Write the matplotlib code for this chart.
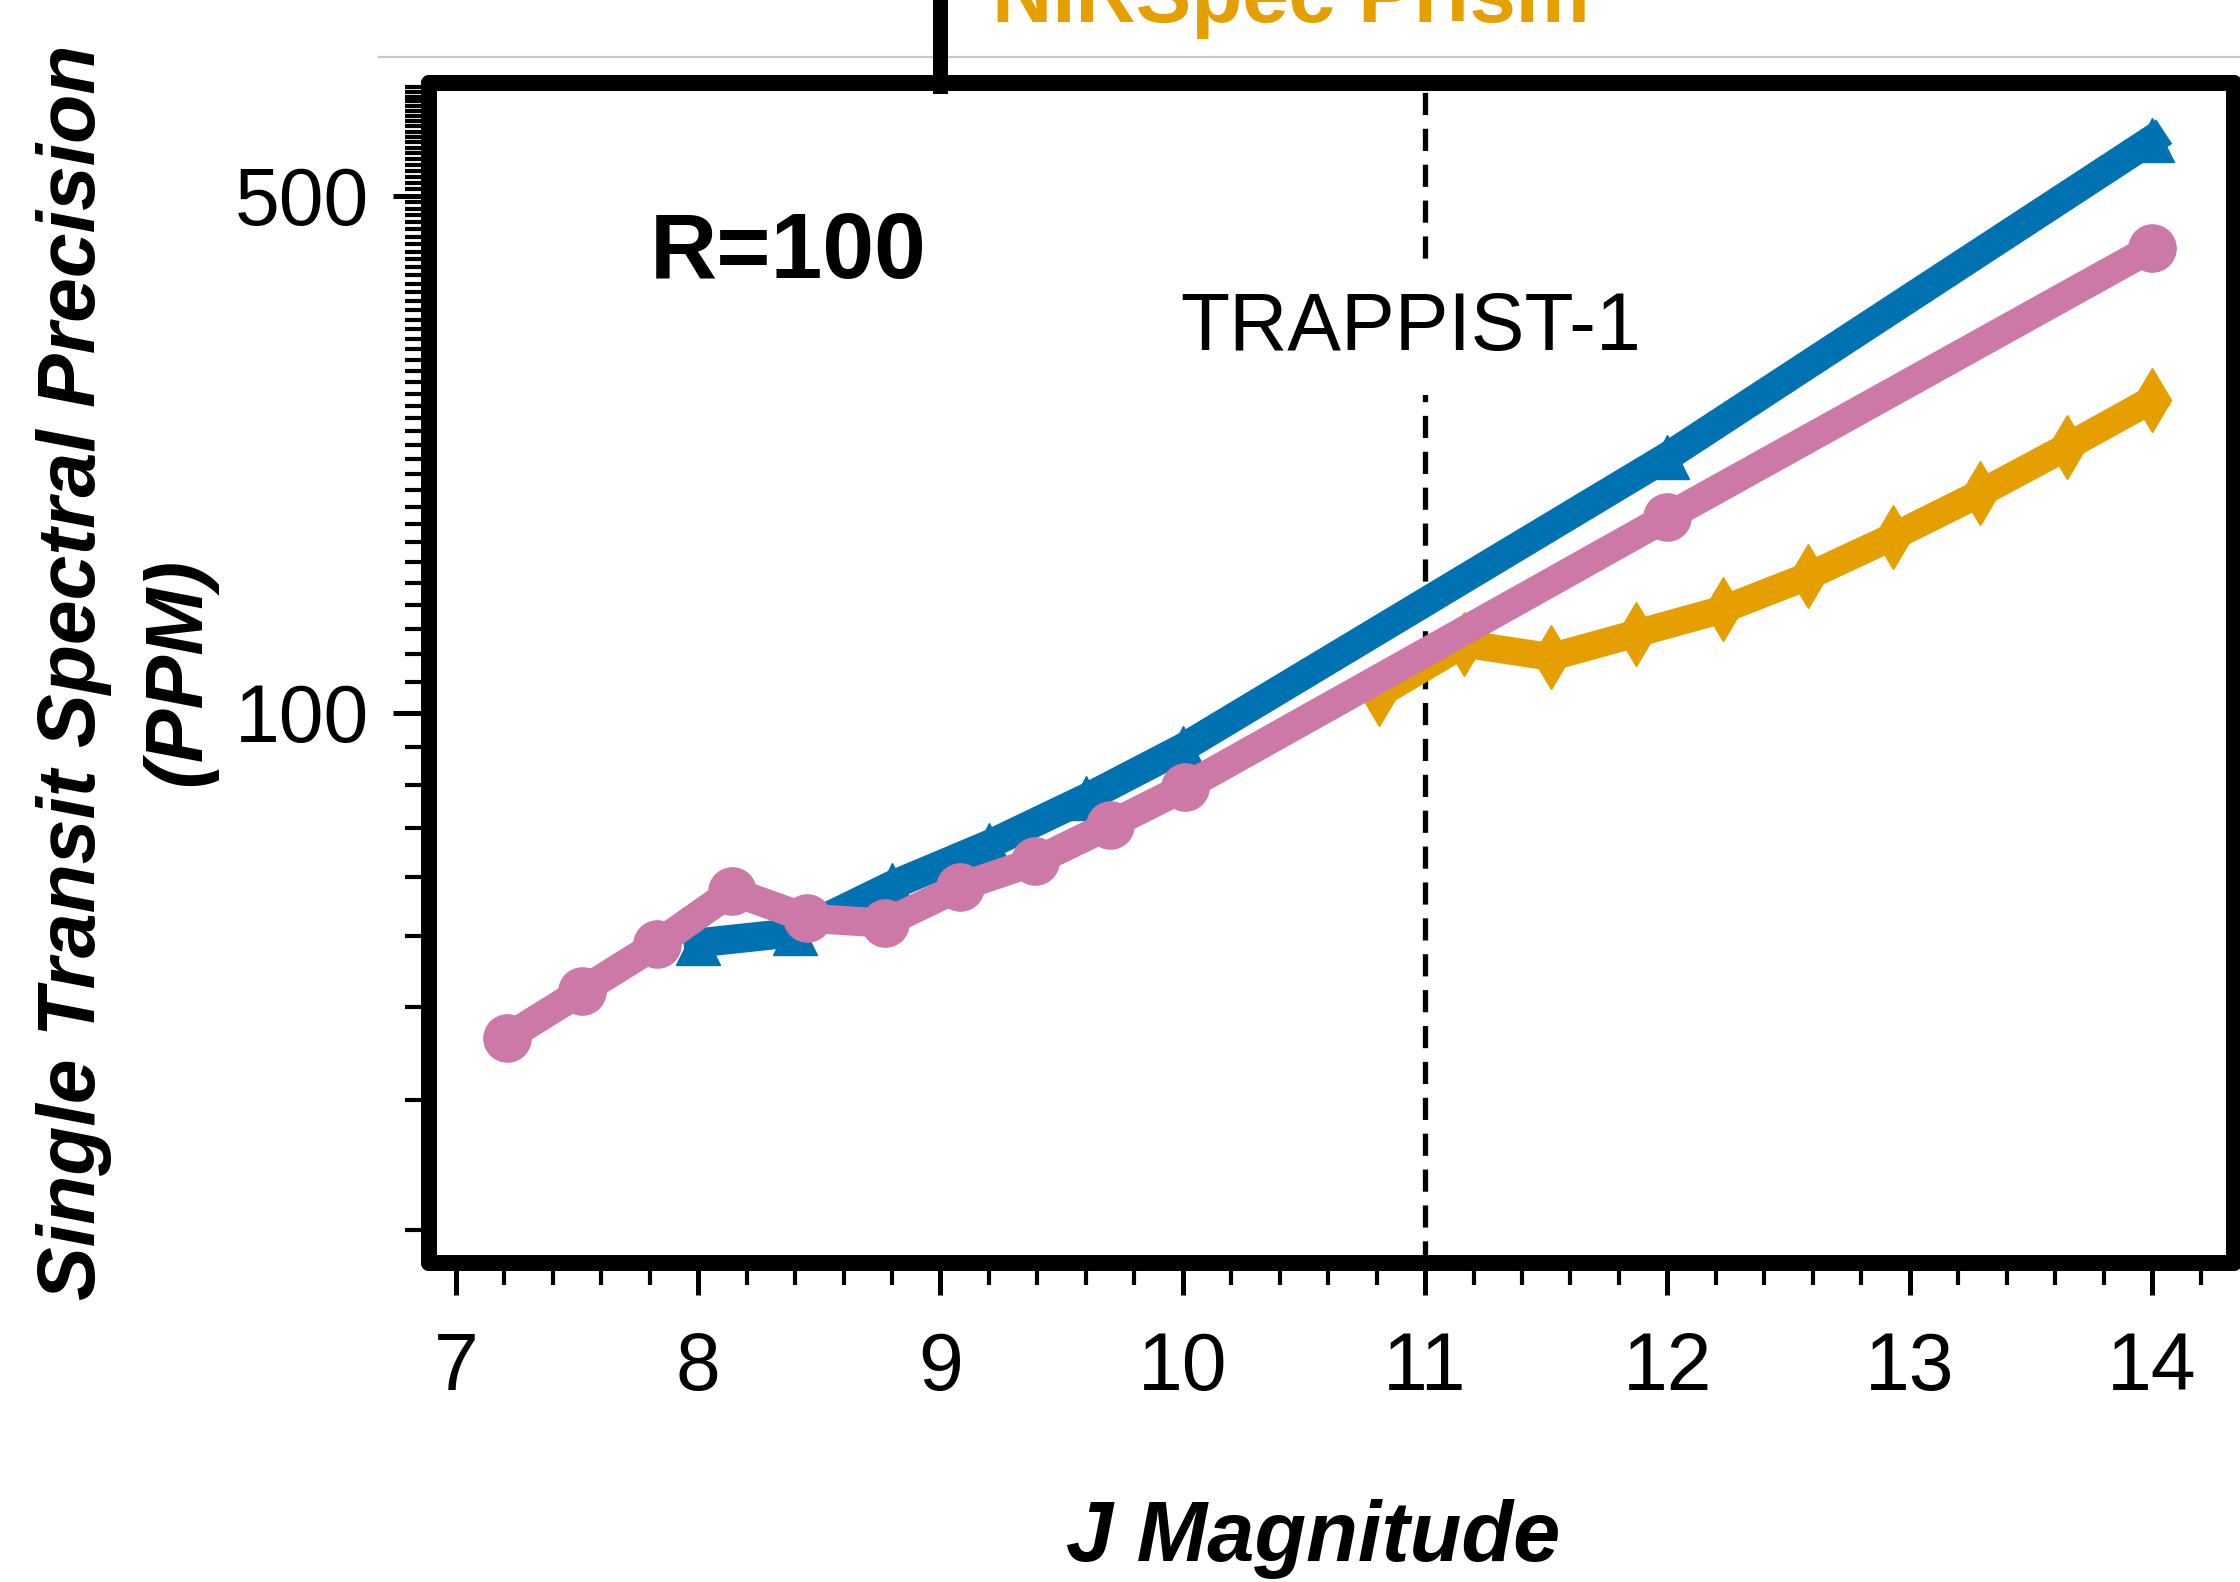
import numpy as np
import matplotlib
matplotlib.use('Agg')
import matplotlib.pyplot as plt
from matplotlib.lines import Line2D
from matplotlib.ticker import FixedLocator, MultipleLocator, NullFormatter

plt.rcParams['font.family'] = ['Liberation Sans', 'DejaVu Sans']

# Data (J magnitude vs single transit precision, ppm)
pink_j = [7.21, 7.52, 7.83, 8.14, 8.45, 8.77, 9.08, 9.39, 9.70, 10.01, 12.0, 14.0]
pink_ppm = [36.4, 42.1, 48.7, 57.4, 52.8, 52.0, 58.2, 63.0, 70.6, 79.4, 184, 425]

blue_j = [8.0, 8.4, 8.8, 9.2, 9.6, 10.0, 12.0, 14.0]
blue_ppm = [48.9, 50.5, 58.5, 66.4, 76.7, 89.7, 222, 595]

orange_j = [10.81, 11.16, 11.52, 11.87, 12.23, 12.58, 12.93, 13.29, 13.65, 14.0]
orange_ppm = [106, 124, 119, 128, 138, 153, 173, 198, 229, 265]

trappist_j = 11
x_ticks = [7, 8, 9, 10, 11, 12, 13, 14]
y_major = [100, 500]
y_minor = [20, 30, 40, 50, 60, 70, 80, 90] + list(range(110, 710, 10))

BLUE = '#0072B2'
PINK = '#CC79A7'
ORANGE = '#E69F00'

fig = plt.figure(figsize=(22.4, 15.82), dpi=100)
ax = fig.add_axes([0.1915, 0.2016, 0.9973 - 0.1915, 0.9475 - 0.2016])

ax.plot(orange_j, orange_ppm, color=ORANGE, lw=20, marker='d', ms=33,
        solid_joinstyle='round', zorder=3)
ax.plot(blue_j, blue_ppm, color=BLUE, lw=21, marker='^', ms=32,
        solid_joinstyle='round', zorder=4)
ax.plot(pink_j, pink_ppm, color=PINK, lw=21, marker='o', ms=34,
        solid_joinstyle='round', zorder=5)

ax.axvline(trappist_j, color='black', lw=3.8, dashes=(4.2, 2.6), zorder=2)

ax.set_yscale('log')
ax.set_xlim(6.889, 14.338)
ax.set_ylim(18.06, 709.5)

ax.xaxis.set_major_locator(FixedLocator(x_ticks))
ax.xaxis.set_minor_locator(MultipleLocator(0.2))
ax.yaxis.set_major_locator(FixedLocator(y_major))
ax.yaxis.set_minor_locator(FixedLocator(y_minor))
ax.yaxis.set_major_formatter(plt.FuncFormatter(lambda v, p: f'{v:.0f}'))
ax.yaxis.set_minor_formatter(NullFormatter())

ax.tick_params(axis='x', which='major', direction='out', length=23, width=3.6,
               labelsize=58, pad=26)
ax.tick_params(axis='x', which='minor', direction='out', length=16, width=3)
ax.tick_params(axis='y', which='major', direction='out', length=26, width=3.6,
               labelsize=58, pad=17)
ax.tick_params(axis='y', which='minor', direction='out', length=17, width=3)

for s in ax.spines.values():
    s.set_linewidth(11.5)
    s.set_capstyle('round')

ax.text(0.1224, 0.855, 'R=100', transform=ax.transAxes, fontsize=67,
        fontweight='bold', ha='left', va='center')
ax.text(0.544, 0.7915, 'TRAPPIST-1', transform=ax.transAxes, fontsize=58,
        ha='center', va='center', zorder=6,
        bbox=dict(boxstyle='square,pad=0.35', fc='white', ec='none'))

fig.text(0.0565, 0.575, 'Single Transit Spectral Precision\n(PPM)',
         rotation=90, ha='center', va='center', multialignment='center',
         fontsize=58, fontweight='bold', fontstyle='italic', linespacing=1.5)
fig.text(0.586, 0.0133, 'J Magnitude', ha='center', va='baseline',
         fontsize=61, fontweight='bold', fontstyle='italic')

# bits of the neighbouring panel peeking in at the top
fig.add_artist(Line2D([0.169, 1.0], [0.964, 0.964], color='#c8c8c8', lw=1.6))
fig.add_artist(Line2D([0.4196, 0.4196], [0.9456, 1.0], color='black', lw=10.8))
fig.text(0.443, 0.986, 'NIRSpec Prism', color=ORANGE, fontsize=60,
         fontweight='bold', ha='left', va='baseline')

fig.savefig('out.png', dpi=100)
